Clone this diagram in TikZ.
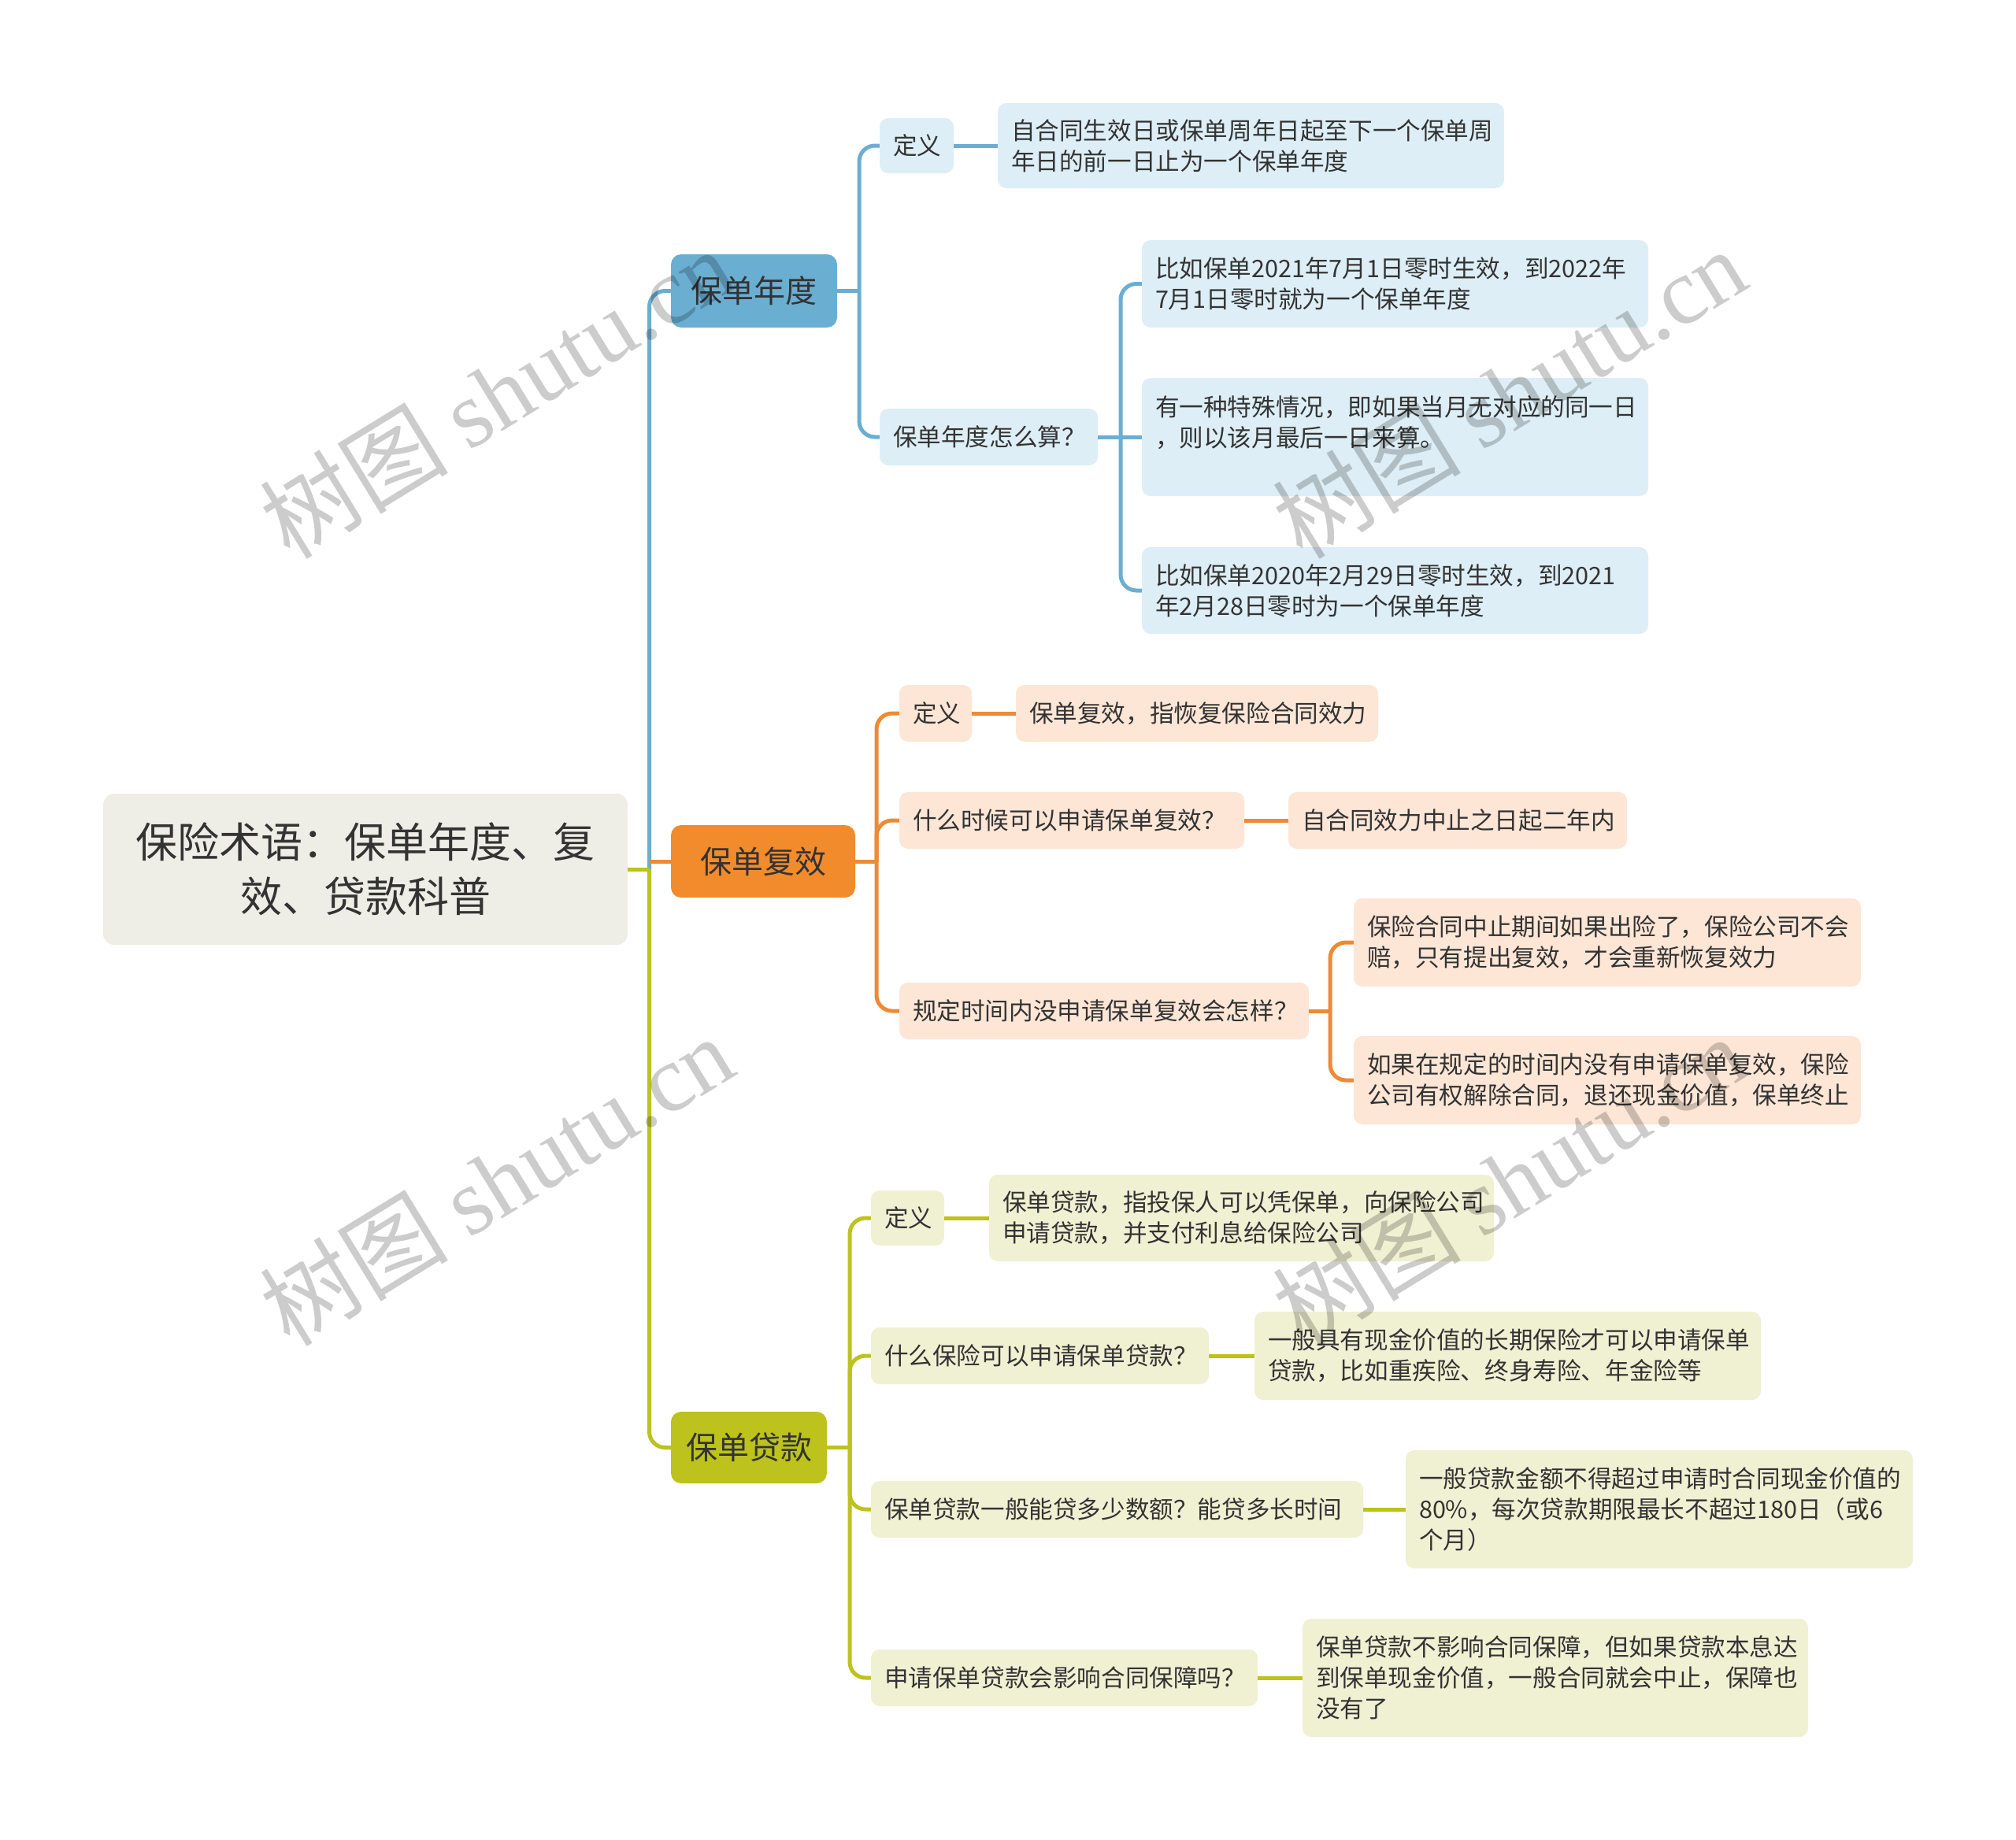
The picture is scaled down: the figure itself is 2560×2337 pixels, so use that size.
\documentclass[tikz,border=0pt]{standalone}
\usepackage{fontspec}
\setmainfont{Noto Sans CJK SC}
\newfontfamily\wmlat{Liberation Serif}
\definecolor{blueM}{HTML}{6AAED2}
\definecolor{blueL}{HTML}{DDEEF6}
\definecolor{orM}{HTML}{F28B2C}
\definecolor{orL}{HTML}{FDE6D6}
\definecolor{orLn}{HTML}{EE8A33}
\definecolor{ylM}{HTML}{BDC21D}
\definecolor{ylL}{HTML}{F0F1D3}
\definecolor{rootF}{HTML}{EEEEE6}
\definecolor{txt}{HTML}{333333}
\newcommand\mybox[7]{%
 \pgfmathsetmacro\myW{#4-#2}\pgfmathsetmacro\myH{#5-#3}\pgfmathsetmacro\myT{#4-#2-34}%
 \pgfmathsetmacro\myX{(#2+#4)/2}\pgfmathsetmacro\myY{(#3+#5)/2}%
 \node[#6, minimum width=\myW pt, minimum height=\myH pt, text width=\myT pt] (#1) at (\myX,\myY) {#7};}
\tikzset{
 base/.style={rounded corners=11pt, inner xsep=17pt, inner ysep=0pt, text=txt, align=left,
   font=\fontsize{30.6}{39}\selectfont},
 rootbox/.style={base, fill=rootF, rounded corners=14pt, align=center, font=\fontsize{53}{69}\selectfont},
 mainbox/.style={base, rounded corners=13pt, align=center, font=\fontsize{40}{50}\selectfont},
 bbox/.style={base, fill=blueL},
 obox/.style={base, fill=orL},
 ybox/.style={base, fill=ylL},
 bln/.style={draw=blueM, line width=5pt},
 oln/.style={draw=orLn, line width=5pt},
 yln/.style={draw=ylM, line width=5pt},
 wm/.style={text=black, text opacity=0.2, inner sep=0pt, anchor=base west, rotate=31.5,
   font=\fontsize{120}{120}\selectfont},
}
\begin{document}
\begin{tikzpicture}[x=1pt,y=-1pt]
\useasboundingbox (0,0) rectangle (2560,2337);
\fill[white] (0,0) rectangle (2560,2337);

% root and main branches
\mybox{root}{131}{1008}{797}{1200}{rootbox}{保险术语：保单年度、复\\效、贷款科普}
\mybox{b1}{852}{323}{1063}{416}{mainbox, fill=blueM}{保单年度}
\mybox{b2}{852}{1048}{1086}{1140}{mainbox, fill=orM}{保单复效}
\mybox{b3}{852}{1793}{1050}{1884}{mainbox, fill=ylM}{保单贷款}

% blue subtree
\mybox{a1}{1117}{150}{1211}{220}{bbox}{定义}
\mybox{a1t}{1267}{131}{1910}{239}{bbox}{自合同生效日或保单周年日起至下一个保单周\\年日的前一日止为一个保单年度}
\mybox{a2}{1117}{519}{1394}{591}{bbox}{保单年度怎么算？}
\mybox{a2c1}{1450}{305}{2093}{416}{bbox}{比如保单2021年7月1日零时生效，到2022年\\7月1日零时就为一个保单年度}
\mybox{a2c2}{1450}{480}{2093}{630}{bbox}{有一种特殊情况，即如果当月无对应的同一日\\，则以该月最后一日来算。\\\mbox{}}
\mybox{a2c3}{1450}{695}{2093}{805}{bbox}{比如保单2020年2月29日零时生效，到2021\\年2月28日零时为一个保单年度}

% orange subtree
\mybox{o1}{1142}{870}{1234}{942}{obox}{定义}
\mybox{o1t}{1290}{870}{1750}{942}{obox}{保单复效，指恢复保险合同效力}
\mybox{o2}{1142}{1006}{1580}{1078}{obox}{什么时候可以申请保单复效？}
\mybox{o2t}{1636}{1006}{2066}{1078}{obox}{自合同效力中止之日起二年内}
\mybox{o3}{1142}{1248}{1662}{1320}{obox}{规定时间内没申请保单复效会怎样？}
\mybox{o3a}{1719}{1141}{2363}{1253}{obox}{保险合同中止期间如果出险了，保险公司不会\\赔，只有提出复效，才会重新恢复效力}
\mybox{o3b}{1719}{1316}{2363}{1428}{obox}{如果在规定的时间内没有申请保单复效，保险\\公司有权解除合同，退还现金价值，保单终止}

% yellow subtree
\mybox{y1}{1106}{1512}{1199}{1582}{ybox}{定义}
\mybox{y1t}{1256}{1492}{1897}{1602}{ybox}{保单贷款，指投保人可以凭保单，向保险公司\\申请贷款，并支付利息给保险公司}
\mybox{y2}{1106}{1686}{1535}{1758}{ybox}{什么保险可以申请保单贷款？}
\mybox{y2t}{1593}{1666}{2236}{1778}{ybox}{一般具有现金价值的长期保险才可以申请保单\\贷款，比如重疾险、终身寿险、年金险等}
\mybox{y3}{1106}{1881}{1731}{1953}{ybox}{保单贷款一般能贷多少数额？能贷多长时间}
\mybox{y3t}{1785}{1842}{2429}{1992}{ybox}{一般贷款金额不得超过申请时合同现金价值的\\80\%，每次贷款期限最长不超过180日（或6\\个月）}
\mybox{y4}{1106}{2095}{1597}{2167}{ybox}{申请保单贷款会影响合同保障吗？}
\mybox{y4t}{1654}{2056}{2296}{2206}{ybox}{保单贷款不影响合同保障，但如果贷款本息达\\到保单现金价值，一般合同就会中止，保障也\\没有了}

% junction coordinates
\coordinate (rj) at (824.5,1104);
\coordinate (b1j) at (1091,369.5);
\coordinate (a2j) at (1423,555);
\coordinate (b2j) at (1113,1094);
\coordinate (o3j) at (1689,1284);
\coordinate (b3j) at (1079,1838.5);

% root connectors
\draw[bln, rounded corners=20pt] (rj) |- (b1.west);
\draw[yln] (root.east |- rj) -- (rj);
\draw[yln, rounded corners=20pt] (rj) |- (b3.west);
\draw[oln] (rj |- b2.west) -- (b2.west);

% blue connectors
\draw[bln] (b1.east) -- (b1j);
\draw[bln, rounded corners=20pt] (b1j) |- (a1.west);
\draw[bln, rounded corners=20pt] (b1j) |- (a2.west);
\draw[bln] (a1.east) -- (a1t.west);
\draw[bln] (a2.east) -- (a2j);
\draw[bln, rounded corners=20pt] (a2j) |- (a2c1.west);
\draw[bln] (a2j) -- (a2c2.west |- a2j);
\draw[bln, rounded corners=20pt] (a2j) |- (a2c3.west);

% orange connectors
\draw[oln] (b2.east) -- (b2j);
\draw[oln, rounded corners=20pt] (b2j) |- (o1.west);
\draw[oln, rounded corners=20pt] (b2j) |- (o2.west);
\draw[oln, rounded corners=20pt] (b2j) |- (o3.west);
\draw[oln] (o1.east) -- (o1t.west);
\draw[oln] (o2.east) -- (o2t.west);
\draw[oln] (o3.east) -- (o3j);
\draw[oln, rounded corners=20pt] (o3j) |- (o3a.west);
\draw[oln, rounded corners=20pt] (o3j) |- (o3b.west);

% yellow connectors
\draw[yln] (b3.east) -- (b3j);
\draw[yln, rounded corners=20pt] (b3j) |- (y1.west);
\draw[yln, rounded corners=20pt] (b3j) |- (y2.west);
\draw[yln, rounded corners=20pt] (b3j) |- (y3.west);
\draw[yln, rounded corners=20pt] (b3j) |- (y4.west);
\draw[yln] (y1.east) -- (y1t.west);
\draw[yln] (y2.east) -- (y2t.west);
\draw[yln] (y3.east) -- (y3t.west);
\draw[yln] (y4.east) -- (y4t.west);

% watermarks
\node[wm] (w1) at (368,713) {树图 {\wmlat shutu.cn}};
\node[wm] (w2) at (1654,713) {树图 {\wmlat shutu.cn}};
\node[wm] (w3) at (368,1713) {树图 {\wmlat shutu.cn}};
\node[wm] (w4) at (1654,1713) {树图 {\wmlat shutu.cn}};
\end{tikzpicture}
\end{document}
